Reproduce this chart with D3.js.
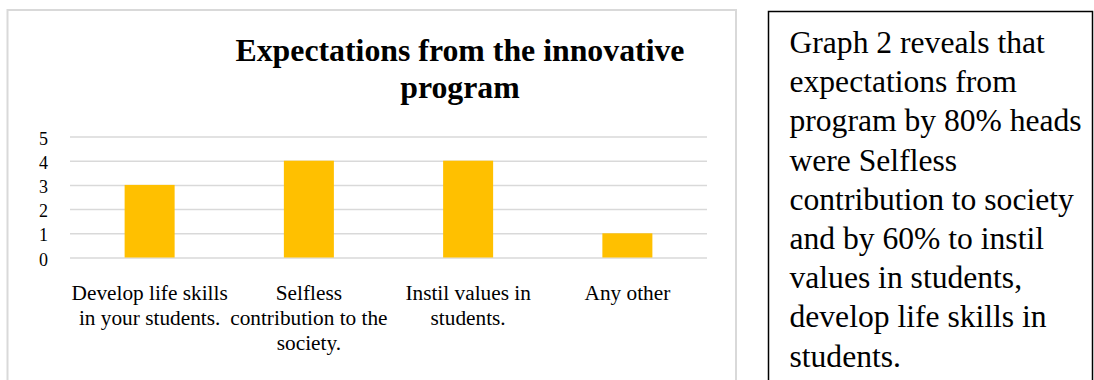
<!DOCTYPE html>
<html>
<head>
<meta charset="utf-8">
<script src="https://cdn.jsdelivr.net/npm/d3@7"></script>
<style>
  body { margin: 0; background: #fff; }
  svg { display: block; font-family: "Liberation Serif", "Times New Roman", serif; }
  .tick text { font-family: "Liberation Serif", "Times New Roman", serif; }
</style>
</head>
<body>
<div id="chart"></div>
<script>
// DATA
const categories = ["Develop life skills in your students.", "Selfless contribution to the society.", "Instil values in students.", "Any other"];
const labelLines = [
    ["Develop life skills", "in your students."],
    ["Selfless", "contribution to the", "society."],
    ["Instil values in", "students."],
    ["Any other"]
];
const counts = [3, 4, 4, 1];
const yTicks = [0, 1, 2, 3, 4, 5];
const titleLines = ["Expectations from the innovative", "program"];
const noteLines = [
    "Graph 2 reveals that",
    "expectations from",
    "program by 80% heads",
    "were Selfless",
    "contribution to society",
    "and by 60% to instil",
    "values in students,",
    "develop life skills in",
    "students."
];

// CONSTANTS
const width = 1094, height = 380;
const plot = {left: 70, right: 707, top: 136.5, bottom: 257.5};

const svg = d3.select("#chart")
    .append("svg")
    .attr("width", width)
    .attr("height", height);

// chart frame (bottom runs off the page)
svg.append("rect")
    .attr("x", 7.5).attr("y", 10)
    .attr("width", 728.5).attr("height", 400)
    .attr("fill", "#fff")
    .attr("stroke", "#d9d9d9")
    .attr("stroke-width", 2);

// SCALES
const xScale = d3.scaleBand()
    .domain(categories)
    .range([plot.left, plot.right])
    .paddingInner(0.686)
    .paddingOuter(0.343);

const yScale = d3.scaleLinear()
    .domain([0, 5])
    .range([plot.bottom, plot.top]);

// AXES
const yAxis = d3.axisLeft(yScale)
    .tickValues(yTicks)
    .tickFormat(d3.format("d"))
    .tickSize(-(plot.right - plot.left))
    .tickPadding(22);

const yAxisGroup = svg.append("g")
    .attr("class", "yAxis")
    .attr("transform", `translate(${plot.left}, 0)`)
    .call(yAxis)
    .attr("font-size", 18)
    .attr("font-family", null);

yAxisGroup.select(".domain").remove();
yAxisGroup.selectAll(".tick line")
    .attr("stroke", "#d9d9d9")
    .attr("stroke-width", 1.5);
yAxisGroup.selectAll(".tick text")
    .attr("dy", "0.42em")
    .attr("fill", "#000");

// BARS
svg.selectAll("rect.bar")
    .data(counts)
    .join("rect")
    .attr("class", "bar")
    .attr("x", (d, i) => xScale(categories[i]))
    .attr("y", d => yScale(d))
    .attr("width", xScale.bandwidth())
    .attr("height", d => yScale(0) - yScale(d))
    .attr("fill", "#FFC000");

const xAxis = d3.axisBottom(xScale).tickSize(0);
const xAxisGroup = svg.append("g")
    .attr("class", "xAxis")
    .attr("transform", `translate(0, ${plot.bottom})`)
    .call(xAxis)
    .attr("font-size", 21.3)
    .attr("font-family", null);

xAxisGroup.select(".domain").remove();
xAxisGroup.selectAll(".tick text")
    .attr("y", 42)
    .attr("dy", 0)
    .attr("fill", "#000")
    .each(function(d, i) {
        const t = d3.select(this);
        t.text(null);
        labelLines[i].forEach((line, j) => {
            t.append("tspan")
                .attr("x", 0)
                .attr("dy", j === 0 ? 0 : 25.3)
                .text(line);
        });
    });

// Title
svg.append("text")
    .attr("x", 460)
    .attr("y", 61)
    .attr("text-anchor", "middle")
    .style("font-size", "31.8px")
    .style("font-weight", "bold")
    .selectAll("tspan")
    .data(titleLines)
    .join("tspan")
    .attr("x", 460)
    .attr("dy", (d, i) => i === 0 ? 0 : 37)
    .text(d => d);

// NOTE BOX
svg.append("rect")
    .attr("x", 768.5).attr("y", 11.5)
    .attr("width", 324).attr("height", 400)
    .attr("fill", "none")
    .attr("stroke", "#000")
    .attr("stroke-width", 1.5);

svg.append("text")
    .attr("x", 789.5)
    .attr("y", 53)
    .style("font-size", "31.6px")
    .attr("fill", "#000")
    .selectAll("tspan")
    .data(noteLines)
    .join("tspan")
    .attr("x", 789.5)
    .attr("dy", (d, i) => i === 0 ? 0 : 39.2)
    .text(d => d);
</script>
</body>
</html>
